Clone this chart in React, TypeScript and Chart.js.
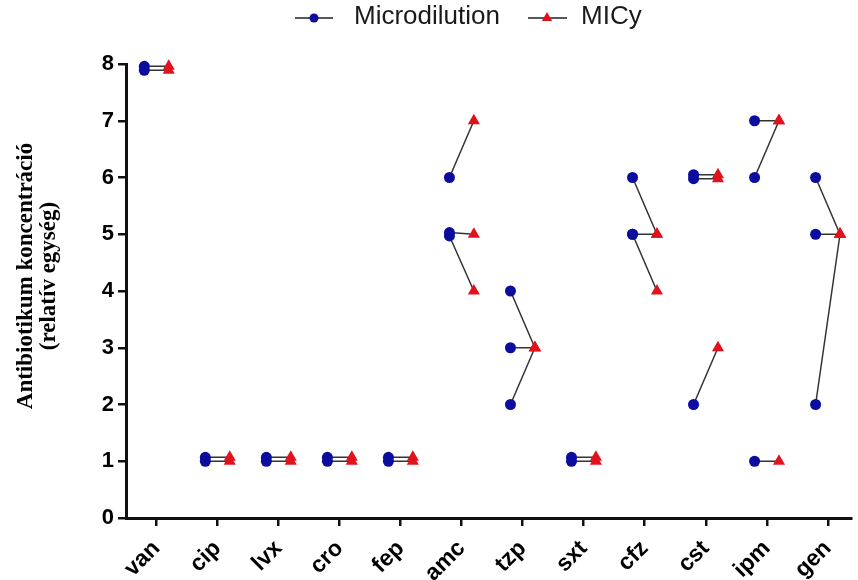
import { useEffect, useRef } from 'react';
import { Chart, registerables } from 'chart.js';
Chart.register(...registerables);

const categories = ['van', 'cip', 'lvx', 'cro', 'fep', 'amc', 'tzp', 'sxt', 'cfz', 'cst', 'ipm', 'gen'];
// paired values per category (index-matched: microdilution[i][j] -> micy[i][j])
const microdilution: number[][] = [
  [7.96, 7.89],
  [1.07, 1.0],
  [1.07, 1.0],
  [1.07, 1.0],
  [1.07, 1.0],
  [6, 5.03, 4.97],
  [4, 3, 2],
  [1.07, 1.0],
  [6, 5, 5],
  [6.05, 5.98, 2],
  [7, 6, 1],
  [6, 5, 2],
];
const micy: number[][] = [
  [7.96, 7.89],
  [1.07, 1.0],
  [1.07, 1.0],
  [1.07, 1.0],
  [1.07, 1.0],
  [7, 5, 4],
  [3, 3, 3],
  [1.07, 1.0],
  [5, 5, 4],
  [6.05, 5.98, 3],
  [7, 7, 1],
  [5, 5, 5],
];
const yTicks = [0, 1, 2, 3, 4, 5, 6, 7, 8];
const seriesNames = ['Microdilution', 'MICy'];
const yTitle = ['Antibiotikum koncentráció', '(relatív egység)'];

const BLUE = '#0c0c9e';
const RED = '#e2121c';
const OFF = 0.2;

const overlayPlugin = {
  id: 'overlay',
  afterDraw(chart: any) {
    const ctx = chart.ctx as CanvasRenderingContext2D;
    ctx.save();
    // legend
    const ly = 18;
    ctx.strokeStyle = '#222';
    ctx.lineWidth = 1.5;
    ctx.beginPath();
    ctx.moveTo(295, ly); ctx.lineTo(333, ly);
    ctx.moveTo(528, ly); ctx.lineTo(567, ly);
    ctx.stroke();
    ctx.fillStyle = BLUE;
    ctx.beginPath();
    ctx.arc(314, ly, 4.5, 0, Math.PI * 2);
    ctx.fill();
    ctx.fillStyle = RED;
    const r = 6, cx = 547;
    ctx.beginPath();
    ctx.moveTo(cx, ly - r);
    ctx.lineTo(cx + r * Math.sin(Math.PI / 3), ly + r / 2);
    ctx.lineTo(cx - r * Math.sin(Math.PI / 3), ly + r / 2);
    ctx.closePath();
    ctx.fill();
    ctx.fillStyle = '#1a1a1a';
    ctx.font = '26px "Liberation Sans", Arial, sans-serif';
    ctx.textBaseline = 'middle';
    ctx.textAlign = 'left';
    ctx.fillText(seriesNames[0], 354, 17);
    ctx.fillText(seriesNames[1], 581, 17);
    // y title
    ctx.translate(0, 276);
    ctx.rotate(-Math.PI / 2);
    ctx.fillStyle = '#000';
    ctx.font = 'bold 23px "Liberation Serif", "Times New Roman", serif';
    ctx.textAlign = 'center';
    ctx.textBaseline = 'alphabetic';
    ctx.fillText(yTitle[0], 0, 32);
    ctx.fillText(yTitle[1], 0, 55);
    ctx.restore();
  },
};

export default function App() {
  const ref = useRef<HTMLCanvasElement>(null);
  useEffect(() => {
    if (!ref.current) return;
    const microPts = microdilution.flatMap((vals, i) => vals.map((v) => ({ x: i - OFF, y: v })));
    const micyPts = micy.flatMap((vals, i) => vals.map((v) => ({ x: i + OFF, y: v })));
    const connectors = microdilution.flatMap((vals, i) =>
      vals.flatMap((v, j) => [
        { x: i - OFF, y: v },
        { x: i + OFF, y: micy[i][j] },
        { x: i, y: null as any },
      ])
    );
    const tickFont = { family: '"Liberation Sans", Arial, sans-serif', size: 22, weight: 'bold' as const };
    const chart = new Chart(ref.current, {
      type: 'scatter',
      data: {
        datasets: [
          {
            label: seriesNames[0],
            data: microPts,
            backgroundColor: BLUE,
            borderColor: BLUE,
            pointStyle: 'circle',
            pointRadius: 5.5,
            borderWidth: 0,
            clip: false as any,
            order: 1,
          },
          {
            label: seriesNames[1],
            data: micyPts,
            backgroundColor: RED,
            borderColor: RED,
            pointStyle: 'triangle',
            pointRadius: 7,
            borderWidth: 0,
            clip: false as any,
            order: 0,
          },
          {
            type: 'line',
            label: 'pairs',
            data: connectors,
            borderColor: '#333',
            borderWidth: 1.5,
            pointRadius: 0,
            showLine: true,
            spanGaps: false,
            clip: false as any,
            order: 2,
          } as any,
        ],
      },
      options: {
        responsive: false,
        animation: false,
        layout: { padding: { top: 64, left: 0, right: 0, bottom: 0 } },
        plugins: { legend: { display: false }, tooltip: { enabled: false } },
        scales: {
          x: {
            type: 'linear',
            min: -0.5,
            max: 11.38,
            afterBuildTicks: (s: any) => {
              s.ticks = categories.map((_, i) => ({ value: i }));
            },
            afterFit: (s: any) => {
              s.height = 62;
            },
            ticks: {
              autoSkip: false,
              maxRotation: 45,
              minRotation: 45,
              padding: 9,
              color: '#000',
              font: { ...tickFont, size: 23 },
              callback: (v: any) => categories[v as number] ?? '',
            },
            grid: {
              display: true,
              drawOnChartArea: false,
              drawTicks: true,
              tickLength: 8,
              color: '#111',
              lineWidth: 2.5,
            },
            border: { display: true, color: '#111', width: 3 },
          },
          y: {
            type: 'linear',
            min: yTicks[0],
            max: yTicks[yTicks.length - 1],
            afterBuildTicks: (s: any) => {
              s.ticks = yTicks.map((v) => ({ value: v }));
            },
            afterFit: (s: any) => {
              s.width = 126;
            },
            ticks: {
              padding: 4,
              color: '#000',
              font: tickFont,
            },
            grid: {
              display: true,
              drawOnChartArea: false,
              drawTicks: true,
              tickLength: 8,
              color: '#111',
              lineWidth: 2.5,
            },
            border: { display: true, color: '#111', width: 3 },
          },
        },
      },
      plugins: [overlayPlugin],
    });
    return () => chart.destroy();
  }, []);
  return (
    <div style={{ position: 'absolute', left: 0, top: 0, width: 858, height: 580 }}>
      <canvas ref={ref} width={858} height={580} />
    </div>
  );
}
